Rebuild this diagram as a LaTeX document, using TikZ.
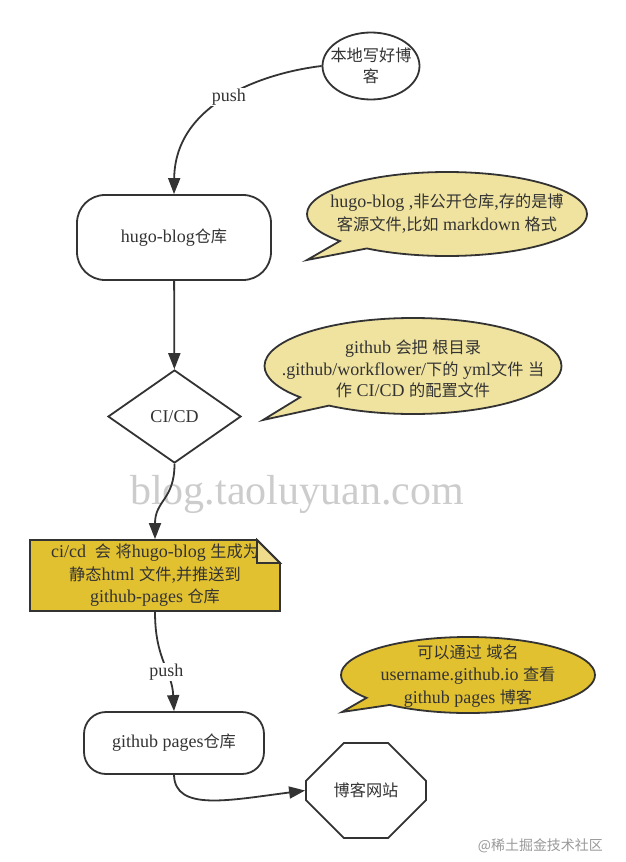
\documentclass[tikz,border=0pt]{standalone}
\usepackage{fontspec}
\setmainfont{Liberation Serif}
\newfontfamily\zhfont{Noto Sans CJK SC}[Scale=0.9]
\usetikzlibrary{shapes.geometric, shapes.misc, shapes.callouts, arrows.meta}
\newcommand{\zh}[1]{{\zhfont #1}}
\definecolor{ink}{HTML}{333333}
\definecolor{paleyellow}{HTML}{F0E3A0}
\definecolor{deepyellow}{HTML}{E2C131}
\definecolor{foldyellow}{HTML}{EEDB8C}

\begin{document}
\begin{tikzpicture}[x=1pt, y=-1pt, color=ink, line width=1.8pt,
  every node/.style={font=\fontsize{18}{23}\selectfont, align=center},
  flow/.style={-{Triangle[length=16pt,width=12pt]}},
  repo/.style={draw, rounded corners=28pt, minimum width=194pt, minimum height=85pt},
  tip/.style={ellipse callout, draw, fill=paleyellow},
  pushlbl/.style={fill=white, inner sep=1pt}]
\path[fill=white, use as bounding box] (0,0) rectangle (625,862);

\node[text=black!20, font=\fontsize{42}{42}\selectfont] (mark) at (297,494) {blog.taoluyuan.com};
\node[anchor=east, text=black!40, font=\zhfont\fontsize{15.5}{15.5}\selectfont] (juejin) at (607,846) {@稀土掘金技术社区};

% callouts
\node[tip, minimum width=280pt, minimum height=84pt, callout absolute pointer={(307,260)}] (tip1) at (447,214) {};
\node (tip1txt) at (tip1) {hugo-blog ,\zh{非公开仓库},\zh{存的是博}\\\zh{客源文件},\zh{比如} markdown \zh{格式}};
\node[tip, minimum width=297pt, minimum height=96pt, callout absolute pointer={(263,420)}] (tip2) at (413,366) {};
\node[font=\fontsize{18}{21.5}\selectfont] (tip2txt) at (413,369) {github \zh{会把} \zh{根目录}\\.github/workflower/\zh{下的} yml\zh{文件} \zh{当}\\\zh{作} CI/CD \zh{的配置文件}};
\node[tip, fill=deepyellow, minimum width=254pt, minimum height=76pt, callout absolute pointer={(342,712)}] (tip3) at (468,675) {};
\node[font=\fontsize{18}{22.5}\selectfont] (tip3txt) at (468,676) {\zh{可以通过} \zh{域名}\\username.github.io \zh{查看}\\github pages \zh{博客}};

% note
\draw[fill=deepyellow] (30,540) -- (257,540) -- (280,563) -- (280,611) -- (30,611) -- cycle;

\node[ellipse, draw, minimum width=97pt, minimum height=67pt] (local) at (371,66) {};
\node[font=\fontsize{18}{21.5}\selectfont] (localtxt) at (local) {\zh{本地写好博}\\\zh{客}};
\node[repo] (hugo) at (174,237.5) {hugo-blog\zh{仓库}};
\node[diamond, draw, minimum width=133pt, minimum height=93pt, inner sep=0pt] (cicd) at (174.5,416.5) {CI/CD};
\node[minimum width=250pt, minimum height=71pt, font=\fontsize{18}{22.5}\selectfont] (conv) at (155,575.5) {ci/cd\ \ \zh{会} \zh{将}hugo-blog \zh{生成为}\\\zh{静态}html \zh{文件},\zh{并推送到}\\github-pages \zh{仓库}};
\node[repo, rounded corners=22pt, minimum width=180pt, minimum height=62pt] (ghp) at (174,743) {github pages\zh{仓库}};
\node[chamfered rectangle, draw, chamfered rectangle xsep=27pt, chamfered rectangle ysep=27pt, minimum width=120pt, minimum height=95pt] (site) at (366,790.5) {\zh{博客网站}};

\draw[fill=foldyellow] (257,540) -- (257,563) -- (280,563) -- cycle;

\draw[flow] (local.west) .. controls (270,72) and (175,100) .. node[pushlbl] {push} (hugo.north);
\draw[flow] (hugo) -- (cicd);
\draw[flow] (cicd.south) .. controls (174.5,500) and (155,500) .. (conv.north);
\draw[flow] (conv.south) .. controls (155,660) and (172,670) .. node[pushlbl, pos=0.6] {push} (ghp.north);
\draw[flow] (ghp.south) .. controls (175,812) and (230,800) .. (site.west);

\end{tikzpicture}
\end{document}
